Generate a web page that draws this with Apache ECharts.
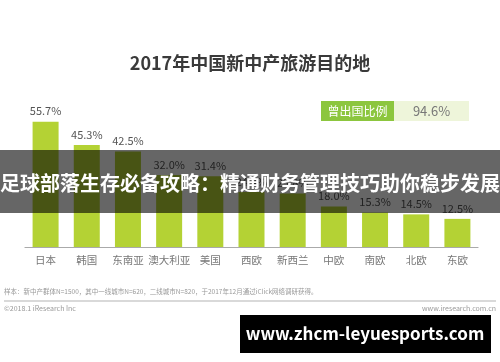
<!DOCTYPE html>
<html>
<head>
<meta charset="utf-8">
<script src="https://cdn.jsdelivr.net/npm/echarts@6/dist/echarts.min.js"></script>
<style>
html,body{margin:0;padding:0;background:#fff;}
#c{width:500px;height:362px;}
</style>
</head>
<body>
<div id="c"></div>
<script>
const categories = ['日本','韩国','东南亚','澳大利亚','美国','西欧','新西兰','中欧','南欧','北欧','东欧'];
const values = [55.7, 45.3, 42.5, 32.0, 31.4, 24.4, 23.8, 18.0, 15.3, 14.5, 12.5];
const titleText = '2017年中国新中产旅游目的地';
const badgeLabel = '曾出国比例';
const badgeValue = '94.6%';
const bannerText = '足球部落生存必备攻略：精通财务管理技巧助你稳步发展';
const noteText = '样本：新中产群体N=1500，其中一线城市N=620，二线城市N=820，于2017年12月通过iClick网络调研获得。';
const copyText = '©2018.1 iResearch Inc';
const siteText = 'www.iresearch.com.cn';
const watermarkText = 'www.zhcm-leyuesports.com';

const FONT = '"Noto Sans CJK SC","Noto Sans",sans-serif';
const chart = echarts.init(document.getElementById('c'), null, {renderer:'canvas'});
chart.setOption({
  animation: false,
  backgroundColor: '#fff',
  title: {
    text: titleText, left: 'center', top: 49,
    textStyle: {fontFamily: FONT, fontSize: 18, fontWeight: 'bold', color: '#3a3a3a'}
  },
  grid: {left: 25, right: 22, top: 112, bottom: 115},
  xAxis: {
    type: 'category', data: categories,
    axisLine: {lineStyle: {color: '#aaa', width: 1.2}},
    axisTick: {show: false},
    axisLabel: {color: '#777', fontSize: 10.5, fontFamily: FONT, margin: 8, interval: 0}
  },
  yAxis: {type: 'value', min: 0, max: 60, show: false, splitLine: {show: false}},
  series: [{
    type: 'bar', data: values, barWidth: 26,
    itemStyle: {color: '#b4d234'},
    label: {show: true, position: 'top', distance: 5, color: '#555', fontSize: 11, fontFamily: FONT,
      formatter: p => p.value.toFixed(1) + '%'}
  }],
  graphic: [
    {type:'rect', shape:{x:321,y:101,width:73,height:20}, style:{fill:'#8cc63e'}},
    {type:'rect', shape:{x:394,y:101,width:75,height:20}, style:{fill:'#eef5da'}},
    {type:'text', x:357.5, y:111, style:{text:badgeLabel, fill:'#fff', font:'12px '+FONT, align:'center', verticalAlign:'middle'}},
    {type:'text', x:431.5, y:111, style:{text:badgeValue, fill:'#777', font:'13px '+FONT, align:'center', verticalAlign:'middle'}},
    {type:'text', x:4, y:292, style:{text:noteText, fill:'#999', font:'6.5px '+FONT, verticalAlign:'middle'}},
    {type:'line', shape:{x1:4,y1:301,x2:496,y2:301}, style:{stroke:'#ccc', lineWidth:1.5}},
    {type:'text', x:4, y:308, style:{text:copyText, fill:'#999', font:'7px '+FONT, verticalAlign:'middle'}},
    {type:'text', x:496, y:308, style:{text:siteText, fill:'#999', font:'7px '+FONT, align:'right', verticalAlign:'middle'}},
    {type:'rect', z:100, shape:{x:0,y:150,width:500,height:63}, style:{fill:'rgba(0,0,0,0.6)'}},
    {type:'text', z:101, x:250, y:183, style:{text:bannerText, fill:'#fff', font:'bold 20px '+FONT, align:'center', verticalAlign:'middle'}},
    {type:'rect', z:100, shape:{x:240,y:315,width:251,height:38}, style:{fill:'#000'}},
    {type:'text', z:101, x:365, y:334, style:{text:watermarkText, fill:'#fff', font:'bold 17px '+FONT, align:'center', verticalAlign:'middle'}}
  ]
});
</script>
</body>
</html>
